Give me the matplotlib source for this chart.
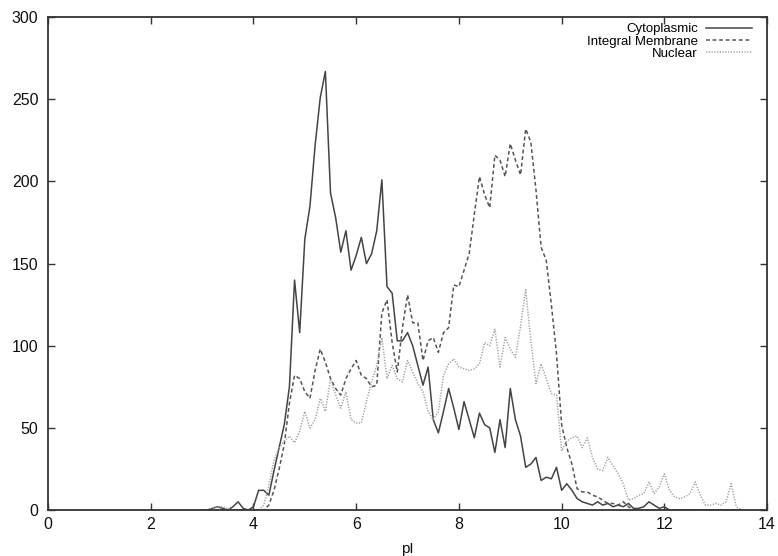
import numpy as np
import matplotlib
matplotlib.use("Agg")
import matplotlib.pyplot as plt

# isoelectric point grid, 0.1 steps
pI = np.round(np.arange(3.0, 13.55, 0.1), 1)

cytoplasmic = [
    0, 0, 1, 2, 1, 0, 2, 5, 1, 0,
    2, 12, 12, 9, 24, 38, 52, 75, 140, 108,
    165, 185, 222, 251, 267, 193, 178, 157, 170, 146,
    155, 166, 150, 156, 170, 201, 136, 132, 103, 103,
    108, 100, 88, 76, 87, 55, 47, 60, 74, 62,
    49, 66, 55, 44, 59, 52, 50, 35, 55, 38,
    74, 55, 45, 26, 28, 32, 18, 20, 19, 26,
    12, 16, 12, 7, 5, 4, 3, 5, 3, 4,
    2, 3, 2, 4, 1, 1, 2, 5, 3, 1,
    2, 0, 0, 0, 0, 0, 0, 0, 0, 0,
    0, 0, 0, 0, 0, 0,
]
integral_membrane = [
    0, 0, 0, 0, 0, 0, 0, 0, 0, 0,
    0, 0, 0, 3, 12, 25, 40, 65, 82, 80,
    72, 68, 85, 98, 90, 80, 74, 70, 80, 86,
    91, 82, 80, 75, 76, 120, 128, 102, 84, 111,
    131, 114, 114, 91, 103, 105, 96, 108, 111, 137,
    136, 146, 156, 180, 203, 192, 184, 216, 213, 203,
    223, 213, 204, 232, 224, 195, 160, 152, 125, 95,
    52, 38, 28, 13, 11, 11, 9, 8, 6, 4,
    4, 3, 5, 2, 0, 0, 0, 0, 0, 0,
    0, 0, 0, 0, 0, 0, 0, 0, 0, 0,
    0, 0, 0, 0, 0, 0,
]
nuclear = [
    0, 0, 1, 2, 2, 1, 0, 0, 0, 0,
    0, 0, 3, 15, 30, 38, 42, 45, 41, 48,
    60, 50, 55, 68, 60, 80, 70, 62, 72, 55,
    53, 53, 66, 78, 88, 105, 80, 88, 80, 78,
    91, 84, 77, 72, 60, 55, 60, 82, 89, 92,
    87, 86, 85, 86, 89, 102, 100, 110, 87, 105,
    98, 93, 112, 134, 103, 77, 89, 80, 71, 70,
    36, 42, 44, 45, 38, 44, 32, 25, 24, 32,
    27, 22, 16, 6, 7, 9, 10, 17, 10, 14,
    22, 12, 8, 7, 8, 10, 17, 9, 3, 3,
    4, 3, 5, 16, 2, 0,
]

plt.rcParams["font.family"] = ["Liberation Sans", "DejaVu Sans"]

fig = plt.figure(figsize=(7.78, 5.56), dpi=100)
ax = fig.add_axes([0.0617, 0.0827, 0.9243, 0.8863])

ax.plot(pI, cytoplasmic, color="#444444", lw=1.1, ls="-", label="Cytoplasmic")
ax.plot(pI, integral_membrane, color="#555555", lw=1.1, ls=(0, (2.5, 1.8)),
        label="Integral Membrane")
ax.plot(pI, nuclear, color="#a0a0a0", lw=1.1, ls=(0, (0.8, 1.0)), label="Nuclear")

ax.set_xlim(0, 14)
ax.set_ylim(0, 300)
ax.set_xticks(np.arange(0, 15, 2))
ax.set_yticks(np.arange(0, 301, 50))
ax.tick_params(direction="in", top=True, right=True, length=5, width=1,
               labelsize=11.5, colors="#333333", labelcolor="#111111")
ax.tick_params(axis="y", pad=7)
ax.tick_params(axis="x", pad=5)
for side in ax.spines.values():
    side.set_linewidth(1.3)
    side.set_color("#333333")

ax.set_xlabel("pI", fontsize=11, color="#111111", labelpad=7)

ax.legend(loc="upper right", bbox_to_anchor=(0.979, 0.988), frameon=False,
          markerfirst=False, fontsize=9.5, handlelength=3.5, handletextpad=0.6,
          labelspacing=0.0, borderaxespad=0.0, borderpad=0.0)

fig.savefig("out.png", dpi=100)
